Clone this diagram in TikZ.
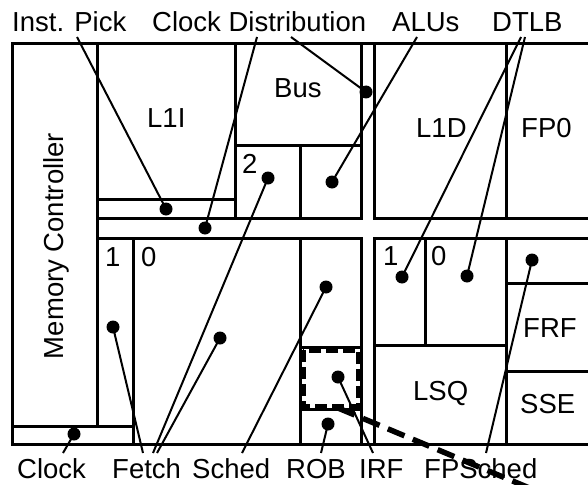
\documentclass[tikz,border=0pt]{standalone}
\usepackage{fontspec}
\setmainfont{Liberation Sans}
\begin{document}
\begin{tikzpicture}[x=1pt,y=-1pt,
  cell/.style={draw=black, line width=3pt},
  lbl/.style={inner sep=0pt, anchor=base west, font=\fontsize{27.5}{30}\selectfont},
  dot/.style={circle, fill=black, inner sep=0pt, minimum size=13pt},
  leader/.style={line width=2pt},
  bigdash/.style={line width=5.5pt, dash pattern=on 18pt off 9pt},
  boxdash/.style={line width=5pt, dash pattern=on 12pt off 5pt}]
\useasboundingbox (0,0) rectangle (588,484);
\fill[white] (0,0) rectangle (588,484);

% outer frame
\draw[cell] (595,44) -- (12,44) -- (12,444) -- (595,444);
% left column
\draw[cell] (12,44) rectangle (97,426);
\draw[cell] (12,426) rectangle (133,444);
% top-left block
\draw[cell] (97,44) rectangle (235,199);
\draw[cell] (97,199) rectangle (235,218);
\draw[cell] (235,44) rectangle (361,145);
\draw[cell] (235,145) rectangle (300,218);
\draw[cell] (300,145) rectangle (361,218);
\draw[cell] (97,218) -- (97,238);
% top-right block
\draw[cell] (374,44) rectangle (506,218);
\draw[cell] (506,44) rectangle (595,218);
% bottom-left block
\draw[cell] (97,238) rectangle (133,426);
\draw[cell] (133,238) rectangle (300,444);
\draw[cell] (300,238) rectangle (361,347);
\draw[cell] (300,347) rectangle (361,409);
\draw[cell] (300,409) rectangle (361,444);
% bottom-right block
\draw[cell] (374,238) rectangle (425,345);
\draw[cell] (425,238) rectangle (506,345);
\draw[cell] (374,345) rectangle (506,444);
\draw[cell] (506,238) rectangle (595,283);
\draw[cell] (506,283) rectangle (595,371);
\draw[cell] (506,371) rectangle (595,444);

% IRF highlight
\fill[white] (303,350) rectangle (358,406);
\draw[boxdash] (303,350) rectangle (358,406);

% block labels
\node[lbl, rotate=90, anchor=base] (mc) at (63,246) {Memory Controller};
\node[lbl] (l1i) at (147,128) {L1I};
\node[lbl] (bus) at (274,98) {Bus};
\node[lbl] (l1d) at (416,137) {L1D};
\node[lbl] (fp0) at (521,137) {FP0};
\node[lbl] (two) at (242,173) {2};
\node[lbl] (fone) at (105,266) {1};
\node[lbl] (fzero) at (141,266) {0};
\node[lbl] (lone) at (383,265) {1};
\node[lbl] (lzero) at (431,265) {0};
\node[lbl] (frf) at (523,337) {FRF};
\node[lbl] (lsq) at (413,400) {LSQ};
\node[lbl] (sse) at (520,413) {SSE};

% top labels
\node[lbl] (tpick) at (12,32) {Inst. Pick};
\node[lbl] (tclk) at (152,32) {Clock Distribution};
\node[lbl] (talu) at (392,32) {ALUs};
\node[lbl] (tdtlb) at (492,32) {DTLB};
% bottom labels
\node[lbl] (bclk) at (17,478) {Clock};
\node[lbl] (bfetch) at (112,478) {Fetch};
\node[lbl] (bsched) at (192,478) {Sched};
\node[lbl] (brob) at (286,478) {ROB};
\node[lbl] (birf) at (359,478) {IRF};
\node[lbl] (bfps) at (424,478) {FPSched};

% big dashed callout line
\coordinate (dsA) at (338,408);
\coordinate (dsB) at (570,505);
\draw[bigdash] (dsA) -- (dsB);

% dots
\node[dot] (dpick) at (166,209) {};
\node[dot] (dclk1) at (205,228) {};
\node[dot] (dclk2) at (366,92) {};
\node[dot] (dalu) at (332,182) {};
\node[dot] (dtwo) at (268,178) {};
\node[dot] (ddt1) at (402,277) {};
\node[dot] (ddt0) at (467,276) {};
\node[dot] (dfps) at (532,260) {};
\node[dot] (dsched) at (326,287) {};
\node[dot] (dirf) at (338,377) {};
\node[dot] (drob) at (328,424) {};
\node[dot] (dfe1) at (113,327) {};
\node[dot] (dfe0) at (220,338) {};
\node[dot] (dclock) at (74,434) {};

% leader start points
\coordinate (cpick) at (77,37);
\coordinate (cclk1) at (257,37);
\coordinate (cclk2) at (291,37);
\coordinate (calu) at (417,37);
\coordinate (cdt1) at (521,37);
\coordinate (cdt0) at (525,37);
\coordinate (cclock) at (63,453);
\coordinate (cfe1) at (143,453);
\coordinate (cfe2) at (153,453);
\coordinate (cfe3) at (157,453);
\coordinate (csched) at (242,453);
\coordinate (crob) at (321,453);
\coordinate (cirf) at (373,453);
\coordinate (cfps) at (486,453);

\draw[leader] (cpick) -- (dpick.center);
\draw[leader] (cclk1) -- (dclk1.center);
\draw[leader] (cclk2) -- (dclk2.center);
\draw[leader] (calu) -- (dalu.center);
\draw[leader] (cdt1) -- (ddt1.center);
\draw[leader] (cdt0) -- (ddt0.center);
\draw[leader] (cclock) -- (dclock.center);
\draw[leader] (cfe1) -- (dfe1.center);
\draw[leader] (cfe2) -- (dtwo.center);
\draw[leader] (cfe3) -- (dfe0.center);
\draw[leader] (csched) -- (dsched.center);
\draw[leader] (crob) -- (drob.center);
\draw[leader] (cirf) -- (dirf.center);
\draw[leader] (cfps) -- (dfps.center);
\end{tikzpicture}
\end{document}
